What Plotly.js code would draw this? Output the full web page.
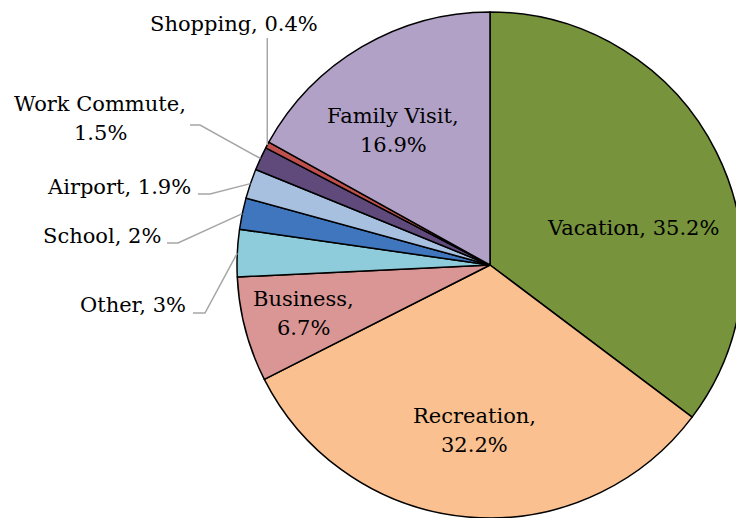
<!DOCTYPE html>
<html><head><meta charset="utf-8">
<script src="https://cdn.plot.ly/plotly-3.0.1.min.js"></script>
<style>html,body{margin:0;padding:0;overflow:hidden;background:#fff}#chart{width:980px;height:518px}</style>
</head><body><div id="chart"></div>
<script>
const categories = ["Vacation","Recreation","Business","Other","School","Airport","Work Commute","Shopping","Family Visit"];
const shares = [35.2,32.2,6.7,3,2,1.9,1.5,0.4,16.9];
const colors = ["#77933C","#FAC090","#D99694","#8FCCDB","#3F76BD","#A7C0E0","#604A7B","#C0504D","#B2A1C7"];

// label text lines (display)
const labelLines = [
  ["Vacation, 35.2%"],
  ["Recreation,","32.2%"],
  ["Business,","6.7%"],
  ["Other, 3%"],
  ["School, 2%"],
  ["Airport, 1.9%"],
  ["Work Commute,","1.5%"],
  ["Shopping, 0.4%"],
  ["Family Visit,","16.9%"]
];

const W=980,H=518,T=12;
const CX=490, CY=265, R=253;
const px = x=>x/W, py = y=>1-(y-T)/(H-T);
const FONT = {family:"DejaVu Serif, serif", size:21, color:"#000"};
const LH = 29;

// label placement (pixels): x, y of first line, anchor; leader: start point and elbow
const place = [
  {x:633,y:228,a:"center"},
  {x:474,y:416,a:"center"},
  {x:303,y:299,a:"center"},
  {x:188,y:305,a:"right", lead:[[193,313],[205,313]]},
  {x:163,y:236,a:"right", lead:[[167,243],[178,243]]},
  {x:193,y:187,a:"right", lead:[[198,194],[210,194]]},
  {x:100,y:104,a:"center", lead:[[190,125],[200,125]]},
  {x:234,y:24,a:"center", lead:"vertical"},
  {x:393,y:116,a:"center"}
];

const total = shares.reduce((a,b)=>a+b,0);
let cum = 0;
const mids = shares.map(v=>{const m=(cum+v/2)/total; cum+=v; return m;});

const annotations=[], shapes=[];
labelLines.forEach((lines,i)=>{
  const p=place[i];
  lines.forEach((t,j)=>{
    annotations.push({text:t, x:px(p.x), y:py(p.y+j*LH), xref:"paper", yref:"paper",
      xanchor:p.a, yanchor:"middle", showarrow:false, font:FONT});
  });
  if(p.lead){
    const ang = mids[i]*2*Math.PI;
    const ex = CX + R*Math.sin(ang), ey = CY - R*Math.cos(ang);
    let path;
    if(p.lead==="vertical"){
      path = `M${px(ex)},${py(38)} L${px(ex)},${py(ey)}`;
    } else {
      const [s,e]=p.lead;
      path = `M${px(s[0])},${py(s[1])} L${px(e[0])},${py(e[1])} L${px(ex)},${py(ey)}`;
    }
    shapes.push({type:"path", xref:"paper", yref:"paper", path:path, line:{color:"#A6A6A6", width:1.5}});
  }
});

Plotly.newPlot("chart",[{
  type:"pie", labels:categories, values:shares, sort:false, direction:"clockwise", rotation:0,
  marker:{colors:colors, line:{color:"#000", width:1.5}},
  textinfo:"none", hoverinfo:"label+percent", domain:{x:[0,1],y:[0,1]}
}],{
  width:W, height:H, margin:{l:0,r:0,t:T,b:0}, showlegend:false,
  paper_bgcolor:"#fff", annotations:annotations, shapes:shapes
},{displayModeBar:false, staticPlot:true});
</script></body></html>
